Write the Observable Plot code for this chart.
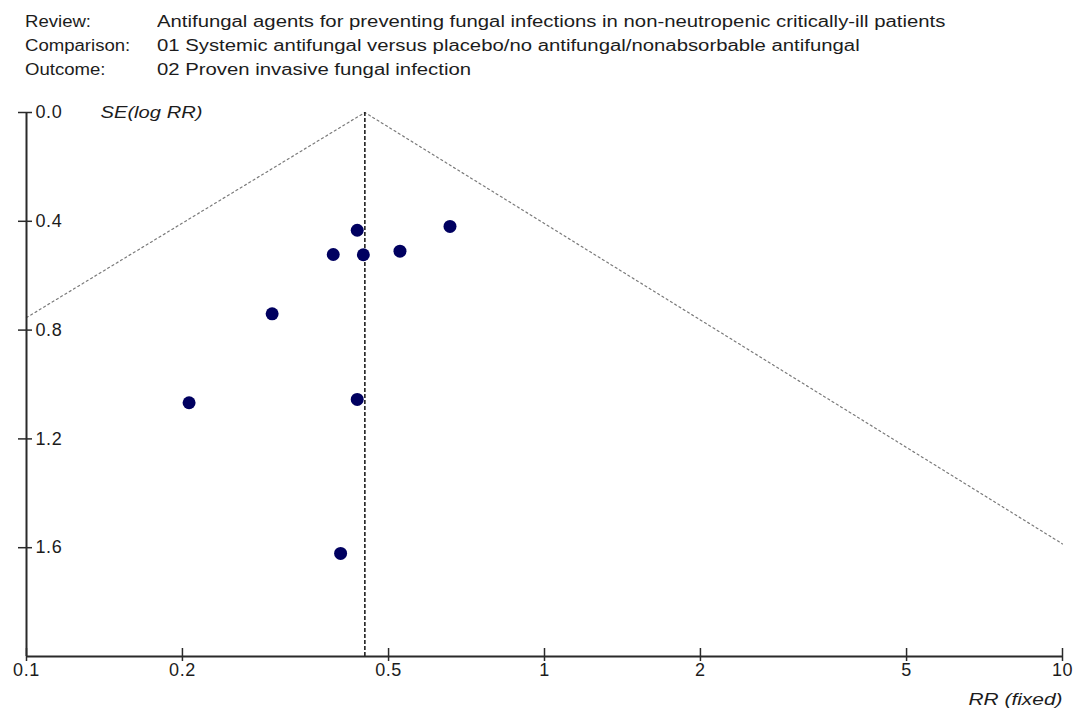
<!DOCTYPE html>
<html>
<head>
<meta charset="utf-8">
<script src="https://cdn.jsdelivr.net/npm/d3@7"></script>
<script src="https://cdn.jsdelivr.net/npm/@observablehq/plot@0.6"></script>
<style>
  body { margin: 0; background: #fff; font-family: "Liberation Sans", Arial, sans-serif; color: #1c1c1c; }
  #header { position: relative; width: 1078px; height: 85px; }
  .hl, .hv { position: absolute; font-size: 16px; line-height: 16px; white-space: nowrap; transform-origin: 0 0; }
  .hl { left: 25px; transform: scaleX(1.16); }
  .hv { left: 157px; transform: scaleX(1.27); }
  #chart svg text { letter-spacing: 0.6px; }
</style>
</head>
<body>
<div id="header"></div>
<div id="chart"></div>
<script>
// Header texts
const headerLabels = ["Review:", "Comparison:", "Outcome:"];
const headerValues = [
  "Antifungal agents for preventing fungal infections in non-neutropenic critically-ill patients",
  "01 Systemic antifungal versus placebo/no antifungal/nonabsorbable antifungal",
  "02 Proven invasive fungal infection"
];

// Study estimates
const studyRR = [0.435, 0.657, 0.391, 0.447, 0.526, 0.298, 0.206, 0.435, 0.404];
const studySE = [0.433, 0.419, 0.522, 0.523, 0.510, 0.740, 1.067, 1.055, 1.621];

// Pooled (fixed) estimate and pseudo-confidence funnel outline
const pooledRR = 0.45;
const funnelRR = [0.1, 0.45, 10];
const funnelSE = [0.754, 0, 1.586];

// Axis ticks
const xTicks = [0.1, 0.2, 0.5, 1, 2, 5, 10];
const xTickLabels = ["0.1", "0.2", "0.5", "1", "2", "5", "10"];
const yTicks = [0, 0.4, 0.8, 1.2, 1.6];
const yTickLabels = ["0.0", "0.4", "0.8", "1.2", "1.6"];
const xTitle = "RR (fixed)";
const yTitle = "SE(log RR)";

// Build header
const header = document.getElementById("header");
headerLabels.forEach((lab, i) => {
  const top = 14 + i * 24;
  const a = document.createElement("div");
  a.className = "hl"; a.style.top = top + "px"; a.textContent = lab;
  const b = document.createElement("div");
  b.className = "hv"; b.style.top = top + "px"; b.textContent = headerValues[i];
  header.appendChild(a); header.appendChild(b);
});

const studies = studyRR.map((rr, i) => ({rr, se: studySE[i]}));
const funnel = funnelRR.map((rr, i) => ({rr, se: funnelSE[i]}));

const axisColor = "#2a2a2a";

const plot = Plot.plot({
  width: 1078,
  height: 625,
  marginTop: 27,
  marginBottom: 54,
  marginLeft: 26,
  marginRight: 16,
  style: {fontFamily: "'Liberation Sans', Arial, sans-serif", fontSize: "17px", color: "#1c1c1c", background: "white", overflow: "visible"},
  x: {type: "log", domain: [0.1, 10], axis: null},
  y: {domain: [0, 2], reverse: true, axis: null},
  marks: [
    // funnel outline
    Plot.line(funnel, {x: "rr", y: "se", stroke: "#7a7a7a", strokeWidth: 1.2, strokeDasharray: "2,3"}),
    // pooled estimate
    Plot.ruleX([pooledRR], {y1: 0, y2: 2, stroke: "#111", strokeWidth: 1.5, strokeDasharray: "4,2"}),
    // axes lines
    Plot.ruleX([0.1], {y1: 0, y2: 2, stroke: axisColor, strokeWidth: 2}),
    Plot.ruleY([2], {x1: 0.1, x2: 10, stroke: axisColor, strokeWidth: 2}),
    // ticks
    Plot.ruleX(xTicks, {x: d => d, y1: 2, y2: 2, insetTop: -8, insetBottom: -5, stroke: axisColor, strokeWidth: 1.5}),
    Plot.ruleY(yTicks, {y: d => d, x1: 0.1, x2: 0.1, insetLeft: -8, insetRight: -6, stroke: axisColor, strokeWidth: 1.5}),
    // tick labels
    Plot.text(xTicks, {x: d => d, frameAnchor: "bottom", dy: 19, text: (d, i) => xTickLabels[i], fontSize: 18, fill: "#1c1c1c"}),
    Plot.text(yTicks, {y: d => d, frameAnchor: "left", dx: 9, textAnchor: "start", text: (d, i) => yTickLabels[i], fontSize: 18, fill: "#1c1c1c"}),
    // axis titles
    Plot.text([yTitle], {frameAnchor: "top-left", dx: 74, dy: 0, textAnchor: "start", lineAnchor: "middle", text: d => d, fontSize: 17, fontStyle: "italic", fill: "#1c1c1c"}),
    Plot.text([xTitle], {frameAnchor: "bottom-right", dy: 43, textAnchor: "end", lineAnchor: "middle", text: d => d, fontSize: 17, fontStyle: "italic", fill: "#1c1c1c"}),
    // studies
    Plot.dot(studies, {x: "rr", y: "se", r: 6.5, fill: "#000060", stroke: "none"})
  ]
});

// stretch axis titles to match reference widths
plot.querySelectorAll("text").forEach(t => {
  if (t.textContent === yTitle) { t.setAttribute("textLength", 102); t.setAttribute("lengthAdjust", "spacingAndGlyphs"); t.style.letterSpacing = "0"; }
  if (t.textContent === xTitle) { t.setAttribute("textLength", 94); t.setAttribute("lengthAdjust", "spacingAndGlyphs"); t.style.letterSpacing = "0"; }
});

document.getElementById("chart").appendChild(plot);
</script>
</body>
</html>
